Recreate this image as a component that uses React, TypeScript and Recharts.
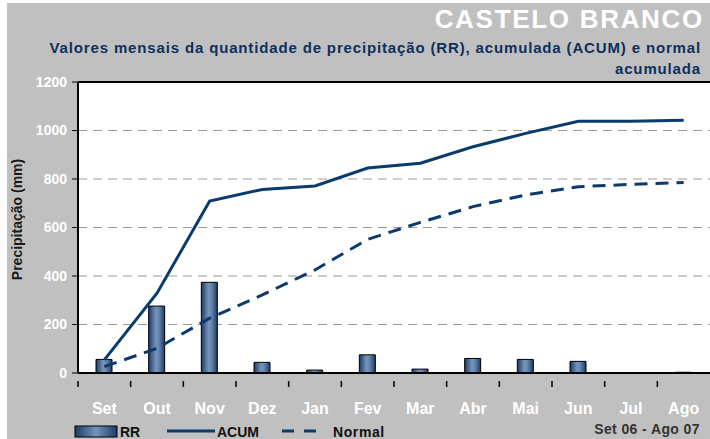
import { ComposedChart, Bar, Line, XAxis, YAxis, CartesianGrid, ReferenceLine } from 'recharts';

const months = ['Set', 'Out', 'Nov', 'Dez', 'Jan', 'Fev', 'Mar', 'Abr', 'Mai', 'Jun', 'Jul', 'Ago'];
const rr = [56, 276, 374, 44, 12, 75, 16, 60, 56, 48, 0, 3];
const acum = [54, 329, 709, 757, 771, 845, 865, 933, 988, 1038, 1038, 1042];
const normal = [26, 102, 226, 322, 425, 551, 621, 686, 734, 768, 778, 786];
const yTicks = [0, 200, 400, 600, 800, 1000, 1200];

const data = months.map((m, i) => ({ month: m, rr: rr[i], acum: acum[i], normal: normal[i] }));

const NAVY = '#0b3a6c';
const FONT = "'Liberation Sans', Arial, sans-serif";
const BAND = 632 / 12;

function MonthTick({ x, y, payload }: any) {
  return (
    <g>
      <line x1={x - BAND / 2} x2={x - BAND / 2} y1={y} y2={y + 6} stroke="#000" strokeWidth={1.5} />
      <text x={x} y={y + 33} textAnchor="middle" fill="#fff" fontFamily={FONT} fontWeight={700} fontSize={16}>
        {payload.value}
      </text>
    </g>
  );
}

export default function App() {
  return (
    <div style={{ position: 'absolute', left: 0, top: 0, width: 710, height: 439, background: '#fff', overflow: 'hidden' }}>
      <div style={{ position: 'absolute', left: 7, top: 3, width: 703, height: 436, background: '#c0c0c0' }} />
      <div style={{ position: 'absolute', right: 6, top: 4, fontFamily: FONT, fontWeight: 700, fontSize: 26, color: '#fff', letterSpacing: 1.7 }}>
        CASTELO BRANCO
      </div>
      <div style={{ position: 'absolute', right: 9, top: 37, fontFamily: FONT, fontWeight: 700, fontSize: 15, color: '#0d2f5e', textAlign: 'right', lineHeight: '21px', letterSpacing: 0.85 }}>
        Valores mensais da quantidade de precipitação (RR), acumulada (ACUM) e normal
        <br />
        acumulada
      </div>
      <div style={{ position: 'absolute', left: 0, top: 0 }}>
        <ComposedChart width={710} height={439} data={data} margin={{ top: 82, right: 0, bottom: 0, left: 0 }}>
          <defs>
            <linearGradient id="barGrad" x1="0" y1="0" x2="1" y2="0">
              <stop offset="0%" stopColor="#1e3a66" />
              <stop offset="45%" stopColor="#7595bb" />
              <stop offset="65%" stopColor="#6283ab" />
              <stop offset="100%" stopColor="#1e3a66" />
            </linearGradient>
          </defs>
          <CartesianGrid vertical={false} stroke="#9a9a9a" strokeDasharray="9 6" fill="#fff" />
          <XAxis
            dataKey="month"
            height={66}
            axisLine={{ stroke: '#000', strokeWidth: 2 }}
            tickLine={false}
            tick={<MonthTick />}
            interval={0}
          />
          <YAxis
            width={78}
            domain={[0, 1200]}
            ticks={yTicks}
            axisLine={{ stroke: '#000', strokeWidth: 2 }}
            tickLine={{ stroke: '#000' }}
            tickSize={6}
            tickMargin={5}
            tick={{ fill: '#fff', fontFamily: FONT, fontWeight: 700, fontSize: 14 }}
            label={{ value: 'Precipitação  (mm)', angle: -90, position: 'insideLeft', dx: 12, dy: -8, fill: '#1a1a1a', fontFamily: FONT, fontWeight: 700, fontSize: 14, style: { textAnchor: 'middle' } }}
          />
          <ReferenceLine y={1200} stroke="#000" strokeWidth={2} />
          <Bar dataKey="rr" barSize={16} fill="url(#barGrad)" stroke="#000" strokeWidth={1} isAnimationActive={false} />
          <Line dataKey="acum" type="linear" stroke={NAVY} strokeWidth={3} dot={false} isAnimationActive={false} />
          <Line dataKey="normal" type="linear" stroke={NAVY} strokeWidth={3} strokeDasharray="13 8" dot={false} isAnimationActive={false} />
        </ComposedChart>
      </div>
      <svg width={710} height={439} style={{ position: 'absolute', left: 0, top: 0, pointerEvents: 'none' }}>
        <defs>
          <linearGradient id="legendGrad" x1="0" y1="0" x2="1" y2="0">
            <stop offset="0%" stopColor="#1e3a66" />
            <stop offset="50%" stopColor="#7595bb" />
            <stop offset="100%" stopColor="#1e3a66" />
          </linearGradient>
        </defs>
        <rect x={75} y={426} width={42} height={11} fill="url(#legendGrad)" stroke="#000" strokeWidth={1} />
        <text x={120} y={437} fontFamily={FONT} fontWeight={700} fontSize={14} fill="#111">RR</text>
        <line x1={167} x2={215} y1={431} y2={431} stroke={NAVY} strokeWidth={3} />
        <text x={217} y={437} fontFamily={FONT} fontWeight={700} fontSize={14} fill="#111">ACUM</text>
        <line x1={282} x2={324} y1={431} y2={431} stroke={NAVY} strokeWidth={3} strokeDasharray="12 10" />
        <text x={333} y={437} fontFamily={FONT} fontWeight={700} fontSize={14} fill="#111" letterSpacing={0.6}>Normal</text>
        <text x={700} y={434} textAnchor="end" fontFamily={FONT} fontWeight={700} fontSize={14} fill="#333" letterSpacing={0.4}>Set 06 - Ago 07</text>
      </svg>
    </div>
  );
}
